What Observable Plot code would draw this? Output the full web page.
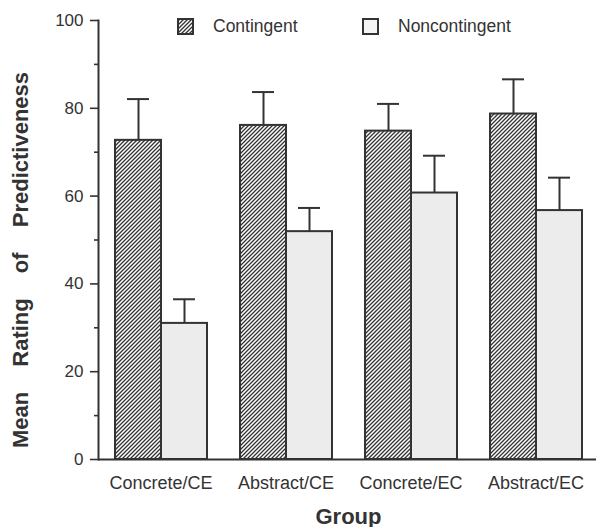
<!DOCTYPE html>
<html>
<head>
<meta charset="utf-8">
<script src="https://cdn.jsdelivr.net/npm/d3@7"></script>
<script src="https://cdn.jsdelivr.net/npm/@observablehq/plot@0.6"></script>
<style>
  html, body { margin: 0; padding: 0; background: white; }
  #wrap { position: relative; width: 596px; height: 527px; font-family: "Liberation Sans", Arial, sans-serif; color: #333; }
  #wrap svg g[aria-label="fx-axis label"] text { font-size: 22px; font-weight: bold; }
  .ylab { position: absolute; left: 21px; top: 260px; transform: translate(-50%, -50%) rotate(-90deg);
          white-space: nowrap; font-weight: bold; font-size: 22px; word-spacing: 19px; color: #333; }
  .leg { position: absolute; top: 18px; height: 17px; display: flex; align-items: center; font-size: 17.5px; color: #333; white-space: nowrap; }
  .leg svg { display: block; margin-right: 19px; }
</style>
</head>
<body>
<div id="wrap">
  <div class="ylab">Mean Rating of Predictiveness</div>
  <div class="leg" style="left:177px">
    <svg width="17" height="17"><defs><pattern id="hatchL" patternUnits="userSpaceOnUse" width="4" height="4"><rect width="4" height="4" fill="white"/><path d="M-1,1 l2,-2 M0,4 l4,-4 M3,5 l2,-2" stroke="#333" stroke-width="1.3"/></pattern></defs><rect x="1" y="1" width="15" height="15" fill="url(#hatchL)" stroke="#333" stroke-width="2"/></svg>
    <span>Contingent</span>
  </div>
  <div class="leg" style="left:362px">
    <svg width="17" height="17"><rect x="1" y="1" width="15" height="15" fill="#f4f4f4" stroke="#333" stroke-width="2"/></svg>
    <span>Noncontingent</span>
  </div>
</div>
<script>
const groups = ["Concrete/CE", "Abstract/CE", "Concrete/EC", "Abstract/EC"];
const seriesNames = ["Contingent", "Noncontingent"];
const contingentMeans = [72.7, 76.1, 74.8, 78.7];
const contingentUpper = [82.1, 83.7, 81.0, 86.6];
const noncontingentMeans = [31.0, 51.9, 60.7, 56.7];
const noncontingentUpper = [36.5, 57.3, 69.2, 64.2];
const majorTicks = [0, 20, 40, 60, 80, 100];
const minorTicks = [10, 30, 50, 70, 90];

const contRows = groups.map((g, i) => ({group: g, series: seriesNames[0], mean: contingentMeans[i], upper: contingentUpper[i]}));
const nonRows = groups.map((g, i) => ({group: g, series: seriesNames[1], mean: noncontingentMeans[i], upper: noncontingentUpper[i]}));
const rows = contRows.concat(nonRows);
const ink = "#333";

const chart = Plot.plot({
  width: 596,
  height: 527,
  marginTop: 20,
  marginBottom: 68,
  marginLeft: 97,
  marginRight: -3,
  style: {fontFamily: "'Liberation Sans', Arial, sans-serif", color: ink, background: "transparent"},
  fx: {domain: groups, padding: 0, label: "Group"},
  x: {domain: seriesNames, paddingInner: 0, paddingOuter: 0.354, axis: null},
  y: {domain: [0, 100], axis: null},
  marks: [
    Plot.barY(contRows, {fx: "group", x: "series", y: "mean", fill: "url(#hatch)", stroke: ink, strokeWidth: 2}),
    Plot.barY(nonRows, {fx: "group", x: "series", y: "mean", fill: "#ececec", stroke: ink, strokeWidth: 2}),
    Plot.ruleX(rows, {fx: "group", x: "series", y1: "mean", y2: "upper", stroke: ink, strokeWidth: 2}),
    Plot.tickY(rows, {fx: "group", x: "series", y: "upper", insetLeft: 12, insetRight: 12, stroke: ink, strokeWidth: 2}),
    Plot.ruleY([0], {stroke: ink, strokeWidth: 2}),
    Plot.frame({anchor: "left", facetAnchor: "left", stroke: ink, strokeWidth: 2}),
    Plot.axisY({ticks: majorTicks, tickSize: 8, tickPadding: 7, fontSize: 17, strokeWidth: 1.6, label: null}),
    Plot.axisY({ticks: minorTicks, tickSize: 4, tickFormat: () => "", strokeWidth: 1.6, label: null}),
    Plot.axisFx({anchor: "bottom", tickSize: 0, tickPadding: 17, fontSize: 18, label: "Group", labelAnchor: "center", labelOffset: 64})
  ]
});

chart.insertAdjacentHTML("afterbegin",
  '<defs><pattern id="hatch" patternUnits="userSpaceOnUse" width="4" height="4">' +
  '<rect width="4" height="4" fill="white"/>' +
  '<path d="M-1,1 l2,-2 M0,4 l4,-4 M3,5 l2,-2" stroke="#333" stroke-width="1.3"/></pattern></defs>');
document.getElementById("wrap").prepend(chart);
chart.style.position = "absolute";
chart.style.left = "0";
chart.style.top = "0";
</script>
</body>
</html>
